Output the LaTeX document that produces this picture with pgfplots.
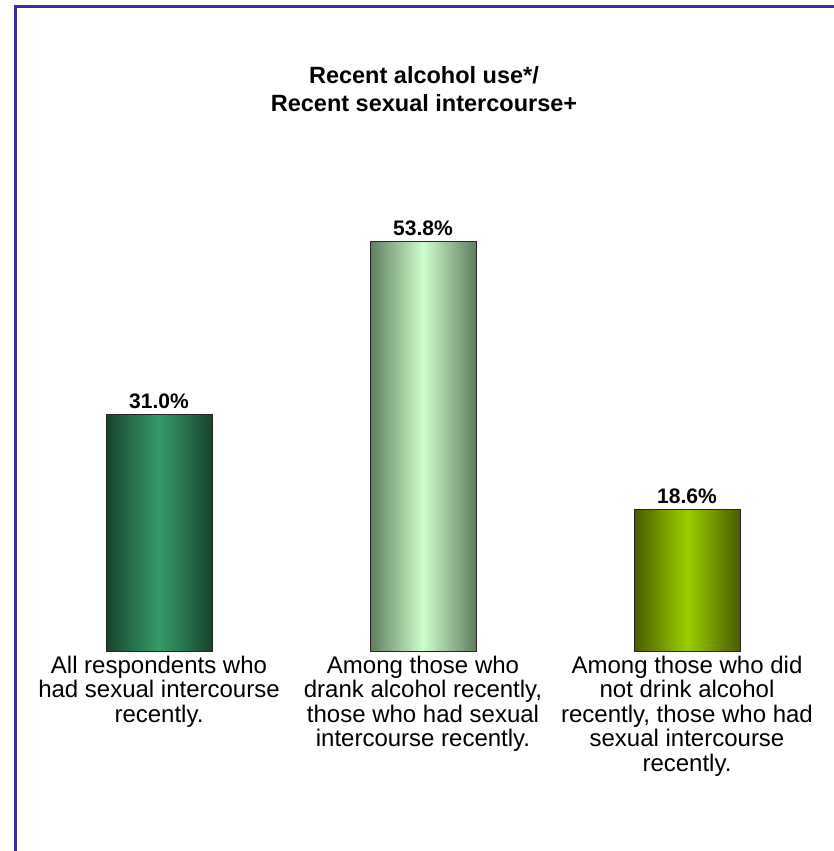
\documentclass[border=0pt]{standalone}
\usepackage{fontspec}
\setmainfont{Liberation Sans}
\usepackage{pgfplots}
\pgfplotsset{compat=1.18}
\definecolor{frameblue}{RGB}{51,51,153}
\definecolor{aDark}{RGB}{24,68,44}
\definecolor{aLight}{RGB}{54,156,105}
\definecolor{bDark}{RGB}{96,126,96}
\definecolor{bLight}{RGB}{204,255,204}
\definecolor{cDark}{RGB}{72,92,0}
\definecolor{cLight}{RGB}{155,206,0}
\begin{document}
\begin{tikzpicture}[x=1pt,y=1pt]
\clip (0,0) rectangle (834,851);
\draw[frameblue, line width=3pt] (15,-10) -- (15,844) -- (850,844);
\node[anchor=base, font=\fontsize{23.5}{28}\selectfont\bfseries] at (424,767) {Recent alcohol use*/};
\node[anchor=base, font=\fontsize{23.5}{28}\selectfont\bfseries] at (424,739) {Recent sexual intercourse+};
\begin{axis}[
  at={(27pt,200pt)}, anchor=south west,
  scale only axis, width=792pt, height=457.2pt,
  xmin=-0.5, xmax=2.5, ymin=0, ymax=60,
  axis line style={draw=none}, tick style={draw=none},
  ytick=\empty, xtick={0,1,2},
  xticklabels={{All respondents who\\had sexual intercourse\\recently.},
               {Among those who\\drank alcohol recently,\\those who had sexual\\intercourse recently.},
               {Among those who did\\not drink alcohol\\recently, those who had\\sexual intercourse\\recently.}},
  xticklabel style={align=center, font=\fontsize{24}{24.5}\selectfont, anchor=north, yshift=3pt},
  clip=false,
  /pgf/number format/assume math mode=true,
  nodes near coords={\pgfmathprintnumber[fixed,fixed zerofill,precision=1]{\pgfplotspointmeta}\%},
  nodes near coords style={font=\fontsize{21}{24}\selectfont\bfseries, anchor=south, yshift=2pt},
  ybar, bar width=106pt, bar shift=0pt,
]
\addplot[draw=black!85, line width=0.8pt, left color=aDark, right color=aDark, middle color=aLight] coordinates {(0,31.0)};
\addplot[draw=black!85, line width=0.8pt, left color=bDark, right color=bDark, middle color=bLight] coordinates {(1,53.8)};
\addplot[draw=black!85, line width=0.8pt, left color=cDark, right color=cDark, middle color=cLight] coordinates {(2,18.6)};
\end{axis}
\end{tikzpicture}
\end{document}
